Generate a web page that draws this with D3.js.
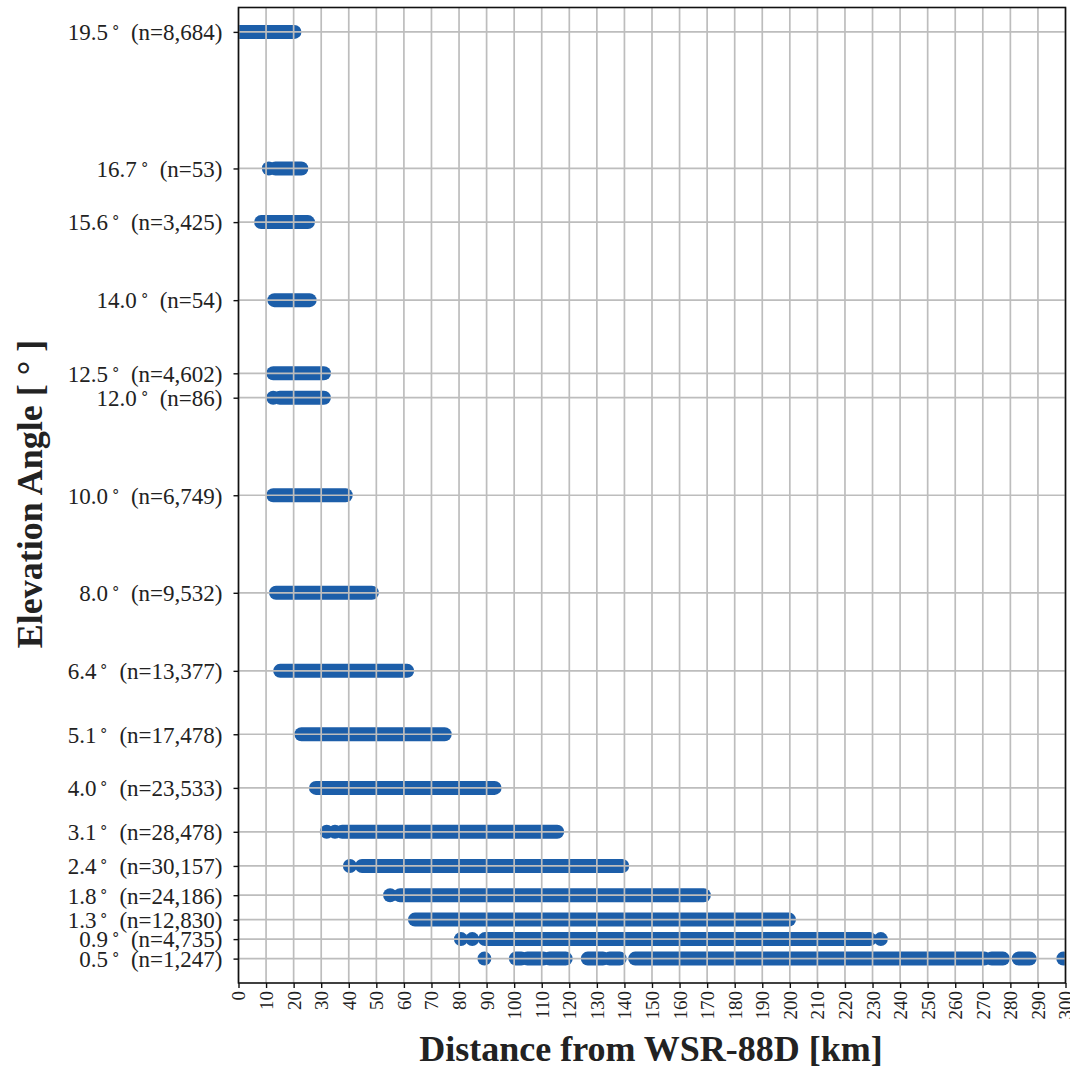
<!DOCTYPE html>
<html>
<head>
<meta charset="utf-8">
<script src="https://cdn.jsdelivr.net/npm/d3@7"></script>
<style>
  html, body { margin: 0; padding: 0; background: #fff; }
  svg { display: block; }
  text { font-family: "Liberation Serif", "Times New Roman", serif; fill: #222; }
</style>
</head>
<body>
<svg id="chart" width="1070" height="1070"></svg>
<script>
// Elevation angles scanned by the radar (degrees) and how many samples each one has
const elevations = [19.5, 16.7, 15.6, 14.0, 12.5, 12.0, 10.0, 8.0, 6.4, 5.1, 4.0, 3.1, 2.4, 1.8, 1.3, 0.9, 0.5];
const counts     = [8684, 53, 3425, 54, 4602, 86, 6749, 9532, 13377, 17478, 23533, 28478, 30157, 24186, 12830, 4735, 1247];

// Distance ranges (km) covered by the samples at each elevation; [a, a] is a lone sample
const ranges = [
  [[0.3, 20.3]],
  [[11.0, 11.0], [13.4, 22.8]],
  [[8.2, 25.2]],
  [[13.0, 25.8]],
  [[12.6, 31.0]],
  [[12.6, 12.6], [15.0, 31.0]],
  [[12.6, 38.9]],
  [[13.6, 48.4]],
  [[15.1, 61.2]],
  [[22.8, 74.8]],
  [[28.1, 92.9]],
  [[32.0, 32.0], [35.0, 35.0], [37.6, 115.6]],
  [[40.4, 40.4], [44.8, 139.2]],
  [[55.0, 55.0], [58.6, 168.8]],
  [[64.0, 199.7]],
  [[80.7, 80.7], [84.8, 84.8], [89.4, 229.0], [233.0, 233.0]],
  [[89.2, 89.2], [100.6, 102.6], [104.8, 110.6], [112.8, 118.7], [126.7, 132.2], [134.6, 138.3],
   [143.9, 270.6], [273.2, 277.3], [283.0, 287.0], [299.2, 299.2]]
];

// X axis ticks every 10 km
const xTicks = d3.range(0, 301, 10);

const svg = d3.select("#chart");
const margin = { left: 238.5, right: 1065.5, top: 7.5, bottom: 983 };

const x = d3.scaleLinear().domain([0, 300]).range([margin.left, margin.right]);
const y = d3.scaleLinear().domain([0, 20]).range([margin.bottom, margin.top]);

const markerColor = "#1c5ea9";
const gridColor = "#bdbdbd";

svg.append("defs").append("clipPath").attr("id", "plotClip")
  .append("rect")
  .attr("x", margin.left).attr("y", margin.top)
  .attr("width", margin.right - margin.left)
  .attr("height", margin.bottom - margin.top);

// Sample runs drawn as thick round-capped strokes (overlapping circular markers)
const rows = elevations.map((e, i) => ({ e, n: counts[i], segs: ranges[i] }));
const markers = svg.append("g").attr("clip-path", "url(#plotClip)");
rows.forEach(r => {
  markers.selectAll(null)
    .data(r.segs)
    .join("line")
    .attr("x1", d => x(d[0]))
    .attr("x2", d => x(d[1]))
    .attr("y1", y(r.e))
    .attr("y2", y(r.e))
    .attr("stroke", markerColor)
    .attr("stroke-width", 14)
    .attr("stroke-linecap", "round");
});

// Grid on top of the markers
const grid = svg.append("g");
grid.selectAll(".vg").data(xTicks).join("line")
  .attr("x1", d => x(d)).attr("x2", d => x(d))
  .attr("y1", margin.top).attr("y2", margin.bottom)
  .attr("stroke", gridColor).attr("stroke-width", 1.7);
grid.selectAll(".hg").data(elevations).join("line")
  .attr("x1", margin.left).attr("x2", margin.right)
  .attr("y1", d => y(d)).attr("y2", d => y(d))
  .attr("stroke", gridColor).attr("stroke-width", 1.7);

// X axis
const xAxis = d3.axisBottom(x).tickValues(xTicks).tickSize(5).tickPadding(3).tickFormat(d3.format("d"));
const gx = svg.append("g").attr("transform", `translate(0,${margin.bottom})`).call(xAxis);
gx.select(".domain").remove();
gx.selectAll(".tick line").attr("stroke", "#111").attr("stroke-width", 1.4);
gx.selectAll(".tick text")
  .attr("font-family", "Liberation Serif, serif")
  .attr("font-size", 19)
  .attr("fill", "#222")
  .attr("transform", "rotate(-90)")
  .attr("text-anchor", "end")
  .attr("x", -8)
  .attr("y", 0)
  .attr("dy", "0.34em");

// Y axis with elevation labels and sample counts
const fmtCount = d3.format(",");
const yAxis = d3.axisLeft(y).tickValues(elevations).tickSize(5).tickFormat("");
const gy = svg.append("g").attr("transform", `translate(${margin.left},0)`).call(yAxis);
gy.select(".domain").remove();
gy.selectAll(".tick line").attr("stroke", "#111").attr("stroke-width", 1.4);
gy.selectAll(".tick").each(function(d, i) {
  const t = d3.select(this).append("text")
    .attr("x", -16)
    .attr("dy", "0.34em")
    .attr("text-anchor", "end")
    .attr("font-size", 23)
    .attr("fill", "#222");
  t.append("tspan").text(d.toFixed(1));
  t.append("tspan").attr("dx", 3).attr("dy", -8).attr("font-size", 15).text("∘");
  t.append("tspan").attr("dx", 11).attr("dy", 8).text(`(n=${fmtCount(counts[i])})`);
});

// Frame
svg.append("rect")
  .attr("x", margin.left).attr("y", margin.top)
  .attr("width", margin.right - margin.left)
  .attr("height", margin.bottom - margin.top)
  .attr("fill", "none").attr("stroke", "#111").attr("stroke-width", 1.6);

// Axis titles
svg.append("text")
  .attr("x", 651)
  .attr("y", 1061)
  .attr("text-anchor", "middle")
  .attr("font-size", 36)
  .attr("font-weight", "bold")
  .attr("fill", "#111")
  .text("Distance from WSR-88D [km]");

svg.append("text")
  .attr("transform", `translate(42,${494}) rotate(-90)`)
  .attr("text-anchor", "middle")
  .attr("font-size", 36)
  .attr("font-weight", "bold")
  .attr("fill", "#111")
  .text("Elevation Angle [ ° ]");
</script>
</body>
</html>
